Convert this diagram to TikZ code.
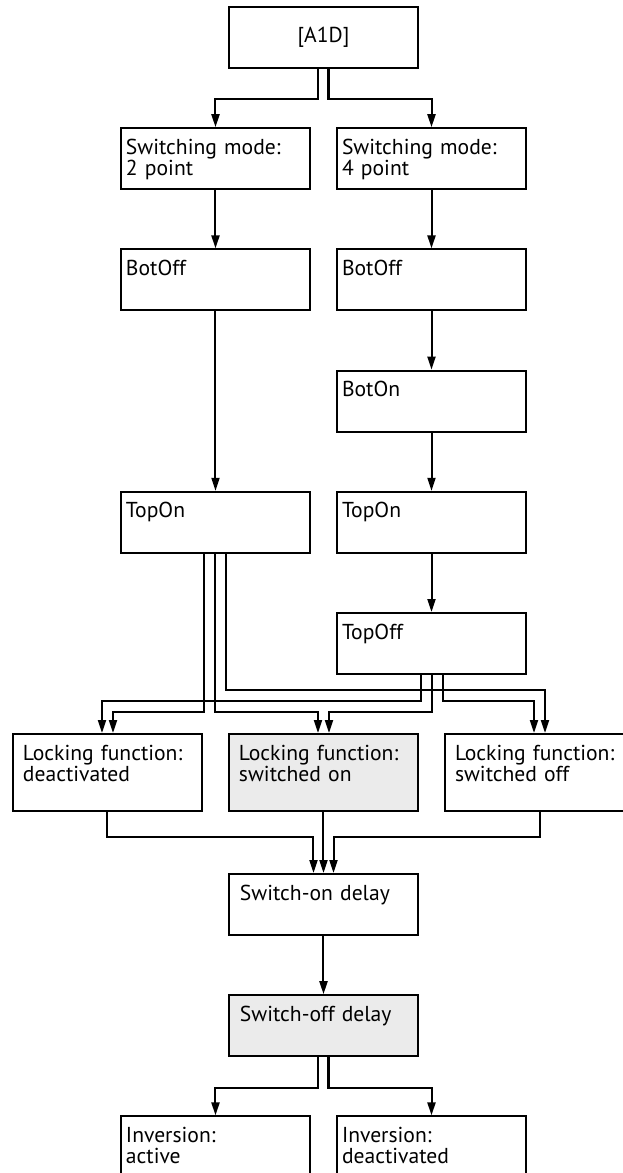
\documentclass[tikz,border=0pt]{standalone}
\usepackage{fontspec}
\setmainfont{PT Sans}
\usetikzlibrary{arrows.meta}

\definecolor{boxgray}{gray}{0.92}
\tikzstyle{block} = [rectangle, draw, text width=89.5pt, inner xsep=2.5pt, inner ysep=0pt,
    align=left, text height=13pt, text depth=17.5pt]
\tikzstyle{topblock} = [rectangle, draw, minimum width=94.5pt, minimum height=30.5pt]
\tikzstyle{lockblock} = [block, text width=84.5pt, inner xsep=5pt, text depth=25.5pt]
\tikzstyle{delayblock} = [block, text width=83.5pt, inner xsep=5.5pt]
\tikzstyle{line} = [draw, -{Triangle[length=6.5pt,width=4pt]}]

\begin{document}
\begin{tikzpicture}[node distance=60.6pt, line width=1pt, font=\fontsize{10.8pt}{10.5pt}\selectfont]
    \useasboundingbox (-161.75pt,18.75pt) rectangle (149.25pt,-567.75pt);

    \node [topblock] (a1d) {[A1D]};
    % 2 point branch
    \node [block, below of=a1d, xshift=-54pt] (mode2) {Switching mode:\\2 point};
    \node [block, below of=mode2] (botoff2) {BotOff};
    \node [block, below of=botoff2, node distance=121.2pt] (topon2) {TopOn};
    % 4 point branch
    \node [block, below of=a1d, xshift=54pt] (mode4) {Switching mode:\\4 point};
    \node [block, below of=mode4] (botoff4) {BotOff};
    \node [block, below of=botoff4] (boton4) {BotOn};
    \node [block, below of=boton4] (topon4) {TopOn};
    \node [block, below of=topon4] (topoff4) {TopOff};
    % locking function
    \node [lockblock, fill=boxgray, below of=topoff4, node distance=64.5pt, xshift=-54pt] (lockon) {Locking function:\\switched on};
    \node [lockblock, left of=lockon, node distance=108pt] (lockdeac) {Locking function:\\deactivated};
    \node [lockblock, right of=lockon, node distance=108pt] (lockoff) {Locking function:\\switched off};
    % delays and inversion
    \node [delayblock, below of=lockon, node distance=66pt] (switchon) {Switch-on delay};
    \node [delayblock, fill=boxgray, below of=switchon] (switchoff) {Switch-off delay};
    \node [block, below of=switchoff, xshift=-54pt] (inv1) {Inversion:\\active};
    \node [block, below of=switchoff, xshift=54pt] (inv2) {Inversion:\\deactivated};

    \path [line] ([xshift=-2.5pt]a1d.south) --++ (0,-15pt) -| (mode2);
    \path [line] ([xshift=2.5pt]a1d.south) --++ (0,-15pt) -| (mode4);
    \path [line] (mode2) -- (botoff2);
    \path [line] (botoff2) -- (topon2);
    \path [line] (mode4) -- (botoff4);
    \path [line] (botoff4) -- (boton4);
    \path [line] (boton4) -- (topon4);
    \path [line] (topon4) -- (topoff4);

    \path [line] ([xshift=-5.5pt]topon2.south) --++ (0,-79pt) -| ([xshift=2.75pt]lockdeac.north);
    \path [line] (topon2.south) --++ (0,-79pt) -| ([xshift=-2.75pt]lockon.north);
    \path [line] ([xshift=5.5pt]topon2.south) --++ (0,-68pt) -| ([xshift=2.75pt]lockoff.north);
    \path [line] ([xshift=-5.5pt]topoff4.south) --++ (0,-13pt) -| ([xshift=-2.75pt]lockdeac.north);
    \path [line] (topoff4.south) --++ (0,-18.5pt) -| ([xshift=2.75pt]lockon.north);
    \path [line] ([xshift=5.5pt]topoff4.south) --++ (0,-13pt) -| ([xshift=-2.75pt]lockoff.north);

    \path [line] (lockdeac.south) --++ (0,-12.5pt) -| ([xshift=-5pt]switchon.north);
    \path [line] (lockon) -- (switchon);
    \path [line] (lockoff.south) --++ (0,-12.5pt) -| ([xshift=5pt]switchon.north);
    \path [line] (switchon) -- (switchoff);
    \path [line] ([xshift=-2.5pt]switchoff.south) --++ (0,-15.5pt) -| (inv1);
    \path [line] ([xshift=2.5pt]switchoff.south) --++ (0,-15.5pt) -| (inv2);
\end{tikzpicture}
\end{document}
